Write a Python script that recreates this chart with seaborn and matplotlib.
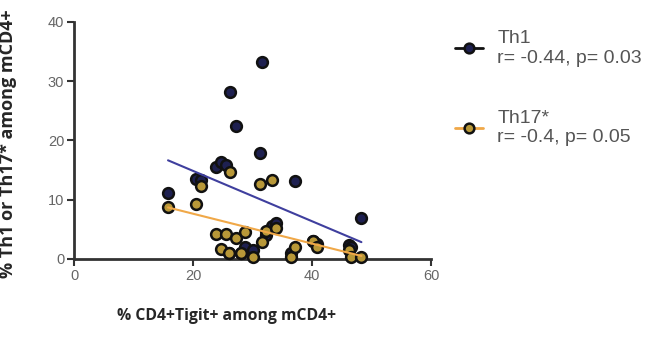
import pandas as pd
import matplotlib
matplotlib.use("Agg")
import matplotlib.pyplot as plt
from matplotlib.lines import Line2D
import seaborn as sns

# % CD4+Tigit+ among mCD4+ (one value per sample)
tigit = [15.8, 20.5, 21.4, 23.9, 24.7, 25.6, 26.0, 26.2, 27.3, 28.0, 28.7, 30.0,
         31.2, 31.6, 32.2, 33.2, 33.9, 36.5, 37.1, 40.1, 40.8, 46.2, 46.5, 48.3]
# % Th1 among mCD4+
th1 = [11.2, 13.5, 13.3, 15.5, 16.3, 15.9, 1.0, 28.2, 22.5, 1.0, 2.0, 1.5,
       17.9, 33.3, 4.0, 5.5, 6.0, 1.0, 13.2, 3.0, 2.5, 2.4, 2.0, 7.0]
# % Th17* among mCD4+
th17 = [8.7, 9.2, 12.4, 4.2, 1.7, 4.2, 1.0, 14.6, 3.5, 1.0, 4.5, 0.3,
        12.6, 2.9, 4.8, 13.3, 5.3, 0.4, 2.0, 3.1, 2.0, 1.6, 0.3, 0.3]

labels = ["Th1\nr= -0.44, p= 0.03", "Th17*\nr= -0.4, p= 0.05"]

sns.set_style("ticks")
plt.rcParams["font.family"] = ["Liberation Sans", "DejaVu Sans"]

df = pd.DataFrame({"tigit": tigit, "th1": th1, "th17": th17})

fig = plt.figure(figsize=(6.51, 3.37), dpi=100)
ax = fig.add_axes([0.1137, 0.2315, 0.5484, 0.7033])

cor_th1 = "#1e2050"
cor_th17 = "#b89838"

sns.regplot(data=df, x="tigit", y="th1", ci=None, ax=ax,
            scatter_kws=dict(s=60, color=cor_th1, edgecolor="#111111", linewidths=1.8, alpha=1, clip_on=False, zorder=3),
            line_kws=dict(color="#3f3f9e", lw=1.5, zorder=5))
sns.regplot(data=df, x="tigit", y="th17", ci=None, ax=ax,
            scatter_kws=dict(s=60, color=cor_th17, edgecolor="#111111", linewidths=1.8, alpha=1, clip_on=False, zorder=4),
            line_kws=dict(color="#f0a848", lw=1.5, zorder=5))

ax.set_xlim(0, 60)
ax.set_ylim(0, 40)
ax.set_xticks([0, 20, 40, 60])
ax.set_yticks([0, 10, 20, 30, 40])
sns.despine(ax=ax)
for lado in ["left", "bottom"]:
    ax.spines[lado].set_linewidth(2)
    ax.spines[lado].set_color("#333333")
ax.tick_params(width=1.5, length=5, color="#333333", labelsize=10.5, labelcolor="#666666", pad=2)

ax.set_xlabel("% CD4+Tigit+ among mCD4+", fontsize=11.3, fontweight="bold",
              family=["Open Sans", "DejaVu Sans"])
ax.set_ylabel("% Th1 or Th17* among mCD4+", fontsize=13, fontweight="bold",
              family=["Open Sans", "DejaVu Sans"])
ax.xaxis.set_label_coords(0.427, -0.205)
ax.yaxis.set_label_coords(-0.16, 0.485)

handles = [
    Line2D([0], [0], color="#111111", lw=2, marker="o", markersize=7,
           markerfacecolor=cor_th1, markeredgecolor="#111111", markeredgewidth=1.8),
    Line2D([0], [0], color="#f0a848", lw=2, marker="o", markersize=7,
           markerfacecolor=cor_th17, markeredgecolor="#111111", markeredgewidth=1.8),
]
fig.legend(handles, labels, loc="upper left", bbox_to_anchor=(0.672, 0.962),
           frameon=False, fontsize=14, labelcolor="#555555", handlelength=1.45,
           handletextpad=0.72, labelspacing=2.2)

fig.savefig("out.png", dpi=100)
